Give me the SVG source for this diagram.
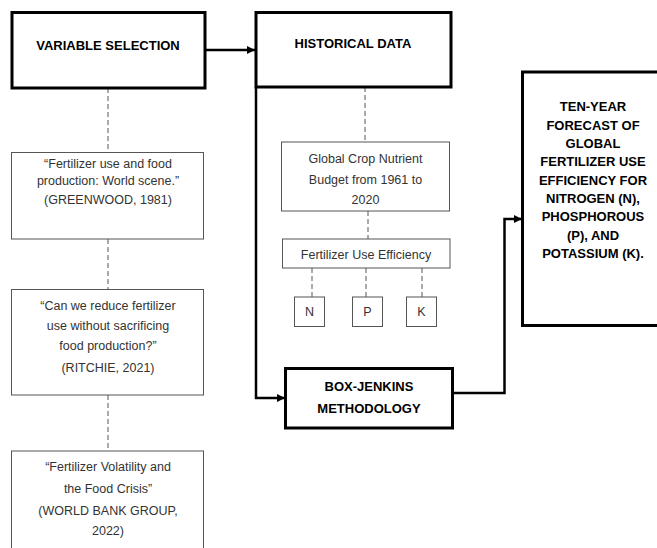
<svg xmlns="http://www.w3.org/2000/svg" width="657" height="548" viewBox="0 0 657 548">
<defs>
<marker id="arr" viewBox="0 0 8 8" refX="8" refY="4" markerWidth="8" markerHeight="8" markerUnits="userSpaceOnUse" orient="auto">
<path d="M0,0 L8,4 L0,8 Z" fill="#000"/>
</marker>
<style>
.main{fill:#fff;stroke:#000;stroke-width:3}
.sub{fill:#fff;stroke:#555;stroke-width:1}
.dash{fill:none;stroke:#555;stroke-width:1;stroke-dasharray:5 3}
.flow{fill:none;stroke:#000;stroke-width:2.5}
.bt{font-family:"Liberation Sans",Arial,sans-serif;font-weight:bold;font-size:13px;fill:#000;text-anchor:middle}
.t{font-family:"Liberation Sans",Arial,sans-serif;font-size:12.5px;fill:#333;text-anchor:middle}
</style>
</defs>
<rect width="657" height="548" fill="#fff"/>
<g id="connectors">
<line class="dash" x1="108" y1="88" x2="108" y2="152"/>
<line class="dash" x1="108" y1="239" x2="108" y2="289"/>
<line class="dash" x1="108" y1="395" x2="108" y2="451"/>
<line class="dash" x1="365" y1="87" x2="365" y2="142"/>
<line class="dash" x1="368" y1="211" x2="368" y2="239"/>
<line class="dash" x1="312" y1="268" x2="312" y2="297"/>
<line class="dash" x1="366" y1="268" x2="366" y2="297"/>
<line class="dash" x1="422" y1="268" x2="422" y2="297"/>
<path class="flow" d="M205,50 H255" marker-end="url(#arr)"/>
<path class="flow" d="M256,87 V398 H285" marker-end="url(#arr)"/>
<path class="flow" d="M453,393 H504.5 V219 H522" marker-end="url(#arr)"/>
</g>
<g id="variable-selection">
<rect class="main" x="12" y="12.5" width="193" height="75.5"/>
<text class="bt" x="108" y="49.5">VARIABLE SELECTION</text>
</g>
<g id="historical-data">
<rect class="main" x="256" y="12.5" width="195" height="74.5"/>
<text class="bt" x="353" y="48">HISTORICAL DATA</text>
</g>
<g id="greenwood">
<rect class="sub" x="11.5" y="152.5" width="192" height="86.5"/>
<text class="t" x="108" y="168">“Fertilizer use and food</text>
<text class="t" x="108" y="184.5">production: World scene.”</text>
<text class="t" x="108" y="204">(GREENWOOD, 1981)</text>
</g>
<g id="ritchie">
<rect class="sub" x="11.5" y="289.5" width="192" height="105.5"/>
<text class="t" x="108" y="309.5">“Can we reduce fertilizer</text>
<text class="t" x="108" y="330">use without sacrificing</text>
<text class="t" x="108" y="349.5">food production?”</text>
<text class="t" x="108" y="372">(RITCHIE, 2021)</text>
</g>
<g id="world-bank">
<rect class="sub" x="11.5" y="451" width="192" height="110"/>
<text class="t" x="108" y="471">“Fertilizer Volatility and</text>
<text class="t" x="108" y="492.5">the Food Crisis”</text>
<text class="t" x="108" y="514.5">(WORLD BANK GROUP,</text>
<text class="t" x="108" y="535">2022)</text>
</g>
<g id="global-budget">
<rect class="sub" x="281.5" y="142" width="168" height="69"/>
<text class="t" x="365.5" y="162.5">Global Crop Nutrient</text>
<text class="t" x="365.5" y="183.5">Budget from 1961 to</text>
<text class="t" x="365.5" y="203.5">2020</text>
</g>
<g id="fue">
<rect class="sub" x="282.5" y="239" width="167.5" height="29"/>
<text class="t" x="366" y="259">Fertilizer Use Efficiency</text>
</g>
<g id="n">
<rect class="sub" x="294.5" y="297" width="30" height="29.5"/>
<text class="t" x="309.5" y="316">N</text>
</g>
<g id="p">
<rect class="sub" x="352.5" y="297" width="30" height="29.5"/>
<text class="t" x="367.5" y="316">P</text>
</g>
<g id="k">
<rect class="sub" x="406.5" y="297" width="30" height="29.5"/>
<text class="t" x="421.5" y="316">K</text>
</g>
<g id="box-jenkins">
<rect class="main" x="285.5" y="368.5" width="167" height="59.5"/>
<text class="bt" x="369" y="390.5">BOX-JENKINS</text>
<text class="bt" x="369" y="413">METHODOLOGY</text>
</g>
<g id="forecast">
<rect class="main" x="522.5" y="72" width="150" height="253.5"/>
<text class="bt" x="593" y="111">TEN-YEAR</text>
<text class="bt" x="593" y="129.5">FORECAST OF</text>
<text class="bt" x="593" y="147.8">GLOBAL</text>
<text class="bt" x="593" y="166.2">FERTILIZER USE</text>
<text class="bt" x="593" y="184.5">EFFICIENCY FOR</text>
<text class="bt" x="593" y="202.8">NITROGEN (N),</text>
<text class="bt" x="593" y="221.2">PHOSPHOROUS</text>
<text class="bt" x="593" y="239.5">(P), AND</text>
<text class="bt" x="593" y="257.8">POTASSIUM (K).</text>
</g>
</svg>
